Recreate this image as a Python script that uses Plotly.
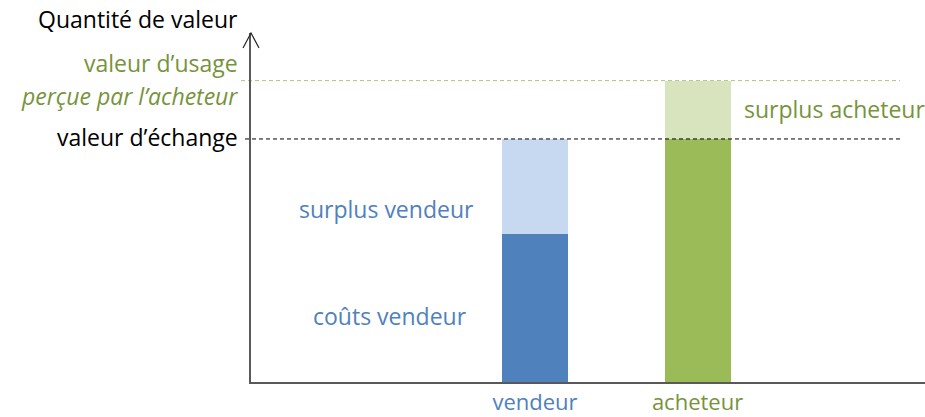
import plotly.graph_objects as go

categories = ["vendeur", "acheteur"]
couts_vendeur = 61
valeur_echange = 100
valeur_usage = 124
surplus_vendeur = valeur_echange - couts_vendeur
surplus_acheteur = valeur_usage - valeur_echange

BLUE = "#4F81BD"
LBLUE = "#C6D9F1"
GREEN = "#9BBB59"
LGREEN = "#D7E4BD"
TGREEN = "#77933C"
FONT = "Open Sans"
FS = 23

L, T, B = 251, 33, 35
W, H = 925, 417
PW, PH = W - L, 382 - T

fig = go.Figure()
fig.add_bar(x=categories, y=[couts_vendeur, valeur_echange], marker_color=[BLUE, GREEN],
            width=0.406, marker_line_width=0, showlegend=False)
fig.add_bar(x=categories, y=[surplus_vendeur, surplus_acheteur], marker_color=[LBLUE, LGREEN],
            width=0.406, marker_line_width=0, showlegend=False)

fig.update_layout(
    barmode="stack",
    width=W, height=H,
    margin=dict(l=L, r=0, t=T, b=B, autoexpand=False),
    paper_bgcolor="white", plot_bgcolor="white",
    font=dict(family=FONT, size=FS, color="black"),
)
fig.update_xaxes(
    range=[-1.748, 2.4], showgrid=False, zeroline=False, automargin=False,
    showline=True, linecolor="#595959", linewidth=1.5,
    tickmode="array", tickvals=categories,
    ticktext=[f"<span style='color:{BLUE}'>vendeur</span>",
              f"<span style='color:{TGREEN}'>acheteur</span>"],
    tickfont=dict(size=22),
    ticks="", ticklabelstandoff=0,
)
fig.update_yaxes(
    range=[0, 143.6], showgrid=False, zeroline=False, automargin=False,
    showline=True, linecolor="#595959", linewidth=1.5,
    showticklabels=False, ticks="",
)

def px(x):
    return (x - L) / PW

def py(y):
    return (382 - y) / PH

# dashed reference lines
fig.add_shape(type="line", xref="paper", yref="y", x0=px(241), x1=px(900),
              y0=valeur_usage, y1=valeur_usage,
              line=dict(color="#A9C47F", width=1, dash="4px,3px"), layer="below")
fig.add_shape(type="line", xref="paper", yref="y", x0=px(245), x1=px(900),
              y0=valeur_echange, y1=valeur_echange,
              line=dict(color="black", width=1, dash="4px,3px"), layer="above")

# arrow head on y axis
fig.add_shape(type="path", xref="paper", yref="paper",
              xsizemode="pixel", ysizemode="pixel", xanchor=0, yanchor=1,
              path="M -8,-15 L 0,0 L 8,-15",
              line=dict(color="#262626", width=1.2))

def ann(text, x, y, color, xanchor="right", italic=False, size=FS):
    if italic:
        text = f"<i>{text}</i>"
    fig.add_annotation(text=text, xref="paper", yref="paper",
                       x=px(x), y=py(y),
                       xanchor=xanchor, yanchor="middle", showarrow=False,
                       font=dict(family=FONT, size=size, color=color))

ann("Quantité de valeur", 240, 19, "black")
ann("valeur d’usage", 240, 63, TGREEN)
ann("perçue par l’acheteur", 240, 96, TGREEN, italic=True)
ann("valeur d’échange", 240, 137, "black")
ann("surplus vendeur", 386, 209, BLUE, xanchor="center")
ann("coûts vendeur", 390, 316, BLUE, xanchor="center")
ann("surplus acheteur", 742, 109, TGREEN, xanchor="left")

fig.write_html("out.html", config={"displayModeBar": False},
               post_script="document.body.style.margin='0';document.body.style.padding='0';")
